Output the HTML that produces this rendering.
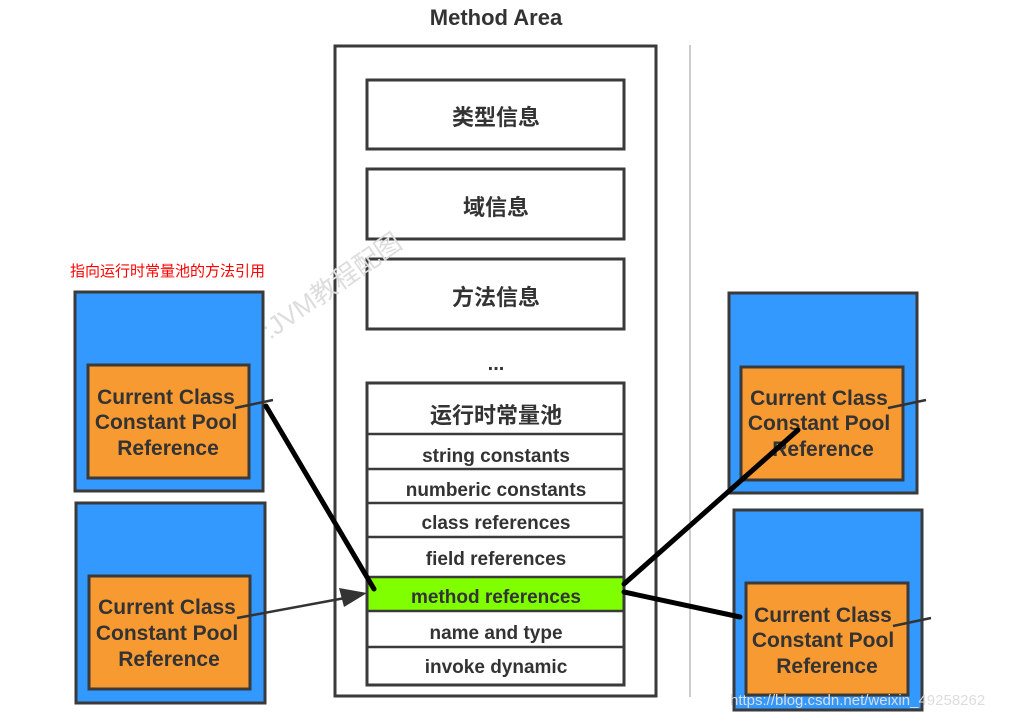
<!DOCTYPE html>
<html><head><meta charset="utf-8"><style>
html,body{margin:0;padding:0;background:#fff;}
svg{display:block;}
text{font-family:"Liberation Sans","Noto Sans CJK SC",sans-serif;font-weight:bold;fill:#333;}
</style></head><body>
<svg width="1011" height="719" viewBox="0 0 1011 719">
<text x="496" y="25" font-size="22" text-anchor="middle">Method Area</text>
<rect x="335" y="46" width="321" height="650" fill="#fff" stroke="#3a3a3a" stroke-width="3"/>
<line x1="690" y1="45" x2="690" y2="697" stroke="#999" stroke-width="1"/>
<g fill="#fff" stroke="#3a3a3a" stroke-width="3">
<rect x="367" y="80" width="257" height="69"/>
<rect x="367" y="169" width="257" height="70"/>
<rect x="367" y="259" width="257" height="70"/>
<rect x="367" y="383" width="257" height="302"/>
</g>
<rect x="367" y="577" width="257" height="34" fill="#7fff00"/>
<g stroke="#3a3a3a" stroke-width="2.5">
<line x1="367" y1="434" x2="624" y2="434"/>
<line x1="367" y1="469" x2="624" y2="469"/>
<line x1="367" y1="503" x2="624" y2="503"/>
<line x1="367" y1="537" x2="624" y2="537"/>
<line x1="367" y1="577" x2="624" y2="577"/>
<line x1="367" y1="611" x2="624" y2="611"/>
<line x1="367" y1="647" x2="624" y2="647"/>
</g>
<rect x="367" y="383" width="257" height="302" fill="none" stroke="#3a3a3a" stroke-width="3"/>
<g font-size="22" text-anchor="middle">
<text x="496" y="125">类型信息</text>
<text x="496" y="215">域信息</text>
<text x="496" y="305">方法信息</text>
<text x="496" y="423">运行时常量池</text>
</g>
<text x="496" y="370" font-size="20" text-anchor="middle">...</text>
<g font-size="19" text-anchor="middle">
<text x="496" y="462">string constants</text>
<text x="496" y="496">numberic constants</text>
<text x="496" y="529">class references</text>
<text x="496" y="565">field references</text>
<text x="496" y="603">method references</text>
<text x="496" y="639">name and type</text>
<text x="496" y="673">invoke dynamic</text>
</g>
<text x="70" y="276" font-size="15" style="font-weight:normal;fill:#f00">指向运行时常量池的方法引用</text>
<text x="270" y="340" font-size="26" style="font-weight:normal;fill:#ddd" transform="rotate(-35 270 340)">:JVM教程配图</text>
<g stroke="#3a3a3a" stroke-width="3">
<rect x="75" y="292" width="188" height="199" fill="#3399ff"/>
<rect x="76" y="503" width="189" height="200" fill="#3399ff"/>
<rect x="729" y="293" width="188" height="200" fill="#3399ff"/>
<rect x="734" y="510" width="188" height="200" fill="#3399ff"/>
<rect x="88" y="365" width="161" height="113" fill="#f79a32"/>
<rect x="89" y="576" width="161" height="113" fill="#f79a32"/>
<rect x="741" y="367" width="162" height="113" fill="#f79a32"/>
<rect x="746" y="583" width="162" height="112" fill="#f79a32"/>
</g>
<g font-size="21" text-anchor="middle">
<text x="166" y="404">Current Class</text><text x="166" y="429">Constant Pool</text><text x="168" y="455">Reference</text>
<text x="167" y="614">Current Class</text><text x="167" y="640">Constant Pool</text><text x="169" y="666">Reference</text>
<text x="819" y="405">Current Class</text><text x="819" y="430">Constant Pool</text><text x="823" y="456">Reference</text>
<text x="823" y="622">Current Class</text><text x="823" y="647">Constant Pool</text><text x="827" y="673">Reference</text>
</g>
<text x="730" y="705" font-size="15" style="font-weight:normal;fill:#ddd">https://blog.csdn.net/weixin_49258262</text>
<g stroke="#333" stroke-width="2.5">
<line x1="235" y1="408" x2="273" y2="400"/>
<line x1="237" y1="618" x2="345" y2="598"/>
<line x1="888" y1="408" x2="926" y2="400"/>
<line x1="893" y1="626" x2="931" y2="618"/>
</g>
<polygon points="367,593 344,607 339,588" fill="#333"/>
<g stroke="#000" stroke-width="5" stroke-linecap="round">
<line x1="266" y1="406" x2="374" y2="589"/>
<line x1="624" y1="584" x2="798" y2="430"/>
<line x1="624" y1="592" x2="740" y2="617"/>
</g>
</svg>
</body></html>
